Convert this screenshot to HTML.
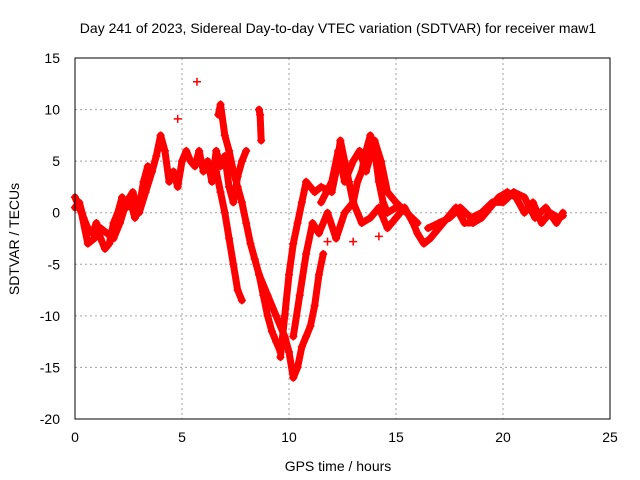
<!DOCTYPE html>
<html><head><meta charset="utf-8"><style>
body{margin:0;background:#fff}
svg{display:block;font-family:"Liberation Sans",sans-serif}
</style></head><body>
<svg id="chart" width="640" height="480">
<text x="338" y="33" font-size="14" text-anchor="middle">Day 241 of 2023, Sidereal Day-to-day VTEC variation (SDTVAR) for receiver maw1</text>
<text x="338" y="471" font-size="14" text-anchor="middle">GPS time / hours</text>
<text transform="translate(19,239) rotate(-90)" font-size="14" text-anchor="middle">SDTVAR / TECUs</text>
<g id="grid"></g>
<g id="marks"></g>
<rect x="75" y="58" width="535" height="361" fill="none" stroke="#000"/>
<g id="ticks"></g>
</svg>
<script>
const xTicks=[0,5,10,15,20,25];
const yTicks=[15,10,5,0,-5,-10,-15,-20];
const trackA_x=[0,0.2,0.4,0.6,0.8,1,1.2,1.4,1.6,1.8,2,2.2,2.4,2.6,2.8,3,3.2,3.4,3.6,3.8,4,4.2,4.4,4.6,4.8,5,5.2,5.4,5.6,5.8,6,6.2,6.4,6.6,6.8,7,7.2,7.4,7.6,7.8,8];
const trackA_y=[0.5,1,-0.5,-1.5,-2,-1,-2.5,-3.5,-3,-1,0,1.5,0.5,1,-0.5,0.5,3,4.5,4,5.5,7.5,6,3,4,2.5,5,6,5,4.5,6,4,5,3,6,4.5,5.5,2.5,1,3.5,5,6];
const trackB_x=[6.6,6.8,7,7.2,7.4,7.6,7.8];
const trackB_y=[4,2,0,-2.5,-5,-7.5,-8.5];
const trackC_x=[6.7,6.8,7,7.2,7.4,7.6,7.8,8,8.2,8.4,8.6,8.8,9,9.2,9.4,9.6];
const trackC_y=[9.5,10.5,7.5,6,4,2.5,1,-1,-3,-4.5,-6,-8,-10,-11.5,-12.5,-13.5];
const trackD_x=[8.6,8.65,8.7];
const trackD_y=[10,9.5,7];
const trackE_x=[8.6,9,9.4,9.8,10,10.2,10.4,10.6,10.8,11,11.2,11.4,11.6];
const trackE_y=[-6,-8,-10,-12,-13.5,-16,-15,-13,-12,-11,-9,-6,-4];
const trackF_x=[9.6,9.8,10,10.2,10.4,10.6,10.8,11,11.2,11.5,12,12.2,12.4,12.6,12.8,13,13.2,13.4,13.6,13.8,14,14.2,14.4,14.6,15];
const trackF_y=[-14,-10,-6,-3,-1,1,3,2.5,2,2.5,2,4,7,5,3,1,3,4,6,7.5,6,3,1,0,0.5];
const trackG_x=[10.2,10.5,10.8,11.1,11.4,11.8,12.2,12.6,13,13.4,13.8,14.2,14.6,15,15.4,15.8,16,16.3,16.6,17,17.4,17.8,18.2,18.6,19,19.4,19.8,20.2,20.6,21,21.4,21.8,22.2,22.6,22.8];
const trackG_y=[-12,-8,-4,-1,-2,0,-2.5,0,1,-1,-0.5,0.5,-1.5,-0.5,0.5,-1,-2,-3,-2.5,-1.5,-0.5,0.5,-1,-1,-0.5,0.5,1.5,2,1.5,0,1,-1,0,-0.5,-0.3];
const trackH_x=[11.5,12,12.3,12.6,13,13.3,13.6,14,14.3,14.6,15,15.5,16];
const trackH_y=[1,3,6,3,5,6,4,7,5,2,1,0,-1];
const trackI_x=[0,0.3,0.6,0.9,1.2,1.5,1.8,2.1,2.4,2.7,3,3.3,3.6];
const trackI_y=[1.5,0,-3,-2.5,-1.5,-2,-2.5,-1,1,2,0,2,4];
const trackJ_x=[16.5,17,17.5,18,18.5,19,19.5,20,20.5,21,21.5,22,22.5,22.8];
const trackJ_y=[-1.5,-1,-0.5,0.5,-0.5,0,1,1,2,1.5,-0.5,0.5,-1,0];
const outliers_x=[5.7,4.8,13,14.2,11.8];
const outliers_y=[12.7,9.1,-2.8,-2.3,-2.8];
const tracks=[[trackA_x,trackA_y],[trackB_x,trackB_y],[trackC_x,trackC_y],[trackD_x,trackD_y],[trackE_x,trackE_y],[trackF_x,trackF_y],[trackG_x,trackG_y],[trackH_x,trackH_y],[trackI_x,trackI_y],[trackJ_x,trackJ_y]];
const NS="http://www.w3.org/2000/svg";
const X=v=>75+v*535/25, Y=v=>58+(15-v)*361/35;
const grid=document.getElementById('grid'),ticks=document.getElementById('ticks'),marks=document.getElementById('marks');
function mk(t,a,p){const e=document.createElementNS(NS,t);for(const k in a)e.setAttribute(k,a[k]);p.appendChild(e);return e;}
xTicks.forEach(v=>{
 if(v>0&&v<25){const g=mk('line',{x1:X(v),x2:X(v),y1:58,y2:419,stroke:'#a0a0a0','stroke-dasharray':'2,3'},grid);
 
 }
 const t=mk('text',{x:X(v),y:442,'font-size':14,'text-anchor':'middle'},ticks);t.textContent=v;
 
 
});
yTicks.forEach(v=>{
 if(v>-20&&v<15){const g=mk('line',{x1:75,x2:610,y1:Y(v),y2:Y(v),stroke:'#a0a0a0','stroke-dasharray':'2,3'},grid);
 
 }
 const t=mk('text',{x:60,y:Y(v)+5,'font-size':14,'text-anchor':'end'},ticks);t.textContent=v;
 
 
});
function plus(x,y){const p=mk('path',{d:`M${X(x)-4},${Y(y)}h8M${X(x)},${Y(y)-4}v8`,stroke:'#f00','stroke-width':1.5},marks);
 
 }
tracks.forEach(([xs,ys])=>{
 const pl=mk('polyline',{points:xs.map((x,i)=>X(x)+','+Y(ys[i])).join(' '),fill:'none',stroke:'#f00','stroke-width':7,'stroke-linejoin':'round','stroke-linecap':'round'},marks);
 
 
 xs.forEach((x,i)=>plus(x,ys[i]));
});
outliers_x.forEach((x,i)=>plus(x,outliers_y[i]));
</script>
</body></html>
